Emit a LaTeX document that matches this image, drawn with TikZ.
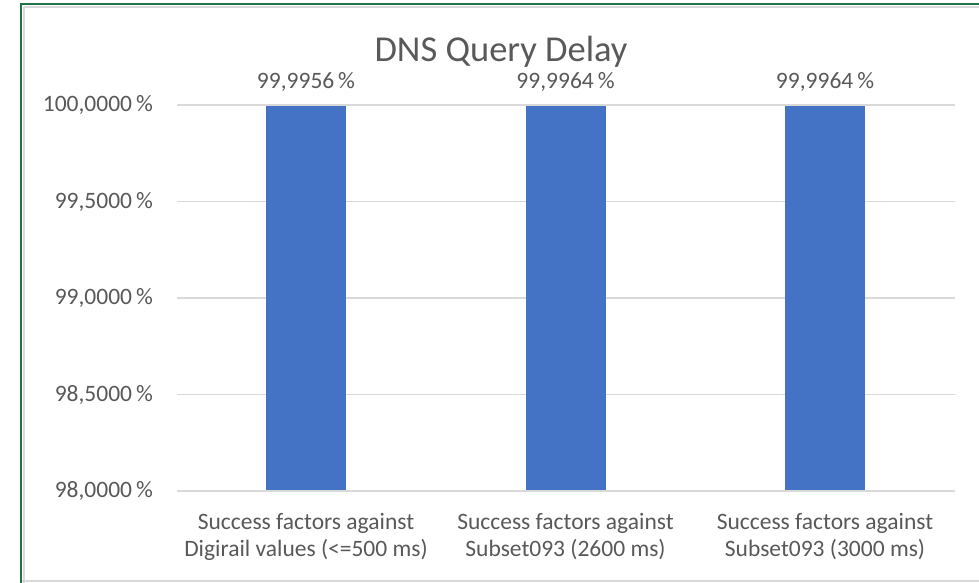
\documentclass[tikz,border=0pt]{standalone}
\usepackage{fontspec}
\setmainfont{Carlito}
\definecolor{barblue}{HTML}{4472C4}
\definecolor{gridgray}{HTML}{D9D9D9}
\definecolor{txtgray}{HTML}{595959}
\definecolor{xlgreen}{HTML}{217346}
\begin{document}
\begin{tikzpicture}[x=1pt,y=-1pt,
  gridline/.style={draw=gridgray,line width=1.3pt},
  bar/.style={fill=barblue,draw=none},
  ylab/.style={anchor=east,text=txtgray,font=\fontsize{23.5}{27}\selectfont,inner sep=0pt},
  vlab/.style={text=txtgray,font=\fontsize{23.5}{27}\selectfont,inner sep=0pt},
  catlab/.style={text=txtgray,font=\fontsize{23.5}{27}\selectfont,align=center,inner sep=0pt},
  titlelab/.style={text=txtgray,font=\fontsize{36.5}{42}\selectfont,inner sep=0pt}]
\useasboundingbox[fill=white] (0,0) rectangle (979,583);
% frame
\draw[gridgray,line width=1.2pt] (24,7) -- (979,7);
\draw[gridgray,line width=1.2pt] (24,7) -- (24,583);
\draw[gridgray,line width=1.5pt] (21,581) -- (979,581);
\draw[xlgreen,line width=2.2pt] (21,583) -- (21,4) -- (979,4);
% gridlines
\foreach \yy/\lab/\nm in {105/100{,}0000\,\%/g0,201.5/99{,}5000\,\%/g1,298/99{,}0000\,\%/g2,394.5/98{,}5000\,\%/g3,491/98{,}0000\,\%/g4}{
  \coordinate (\nm a) at (177,\yy);
  \coordinate (\nm b) at (955,\yy);
  \draw[gridline] (\nm a) -- (\nm b);
  \node[ylab] (\nm l) at (153,\yy) {\lab};
}
% bars
\path[bar] (266,105.9) rectangle (346,491);
\path[bar] (525.5,105.7) rectangle (605.5,491);
\path[bar] (785,105.7) rectangle (865,491);
\draw[gridline] (g4a) -- (g4b);
% value labels
\node[vlab] (v1) at (306,82) {99,9956\,\%};
\node[vlab] (v2) at (565.5,82) {99,9964\,\%};
\node[vlab] (v3) at (825,82) {99,9964\,\%};
% title
\node[titlelab] (title) at (501,52) {DNS Query Delay};
% categories
\node[catlab] (c1) at (306,537) {Success factors against\\Digirail values (<=500 ms)};
\node[catlab] (c2) at (565.5,537) {Success factors against\\Subset093 (2600 ms)};
\node[catlab] (c3) at (825,537) {Success factors against\\Subset093 (3000 ms)};
\end{tikzpicture}
\end{document}
